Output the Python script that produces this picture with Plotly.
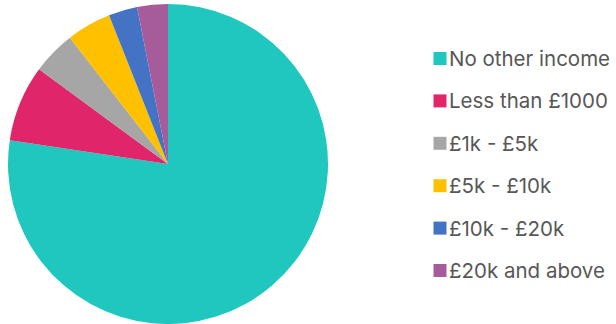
import plotly.graph_objects as go

categories = ["No other income", "Less than £1000", "£1k - £5k", "£5k - £10k", "£10k - £20k", "£20k and above"]
values = [77.3, 7.7, 4.4, 4.5, 2.9, 3.1]
colors = ["#1fc7bf", "#e0256a", "#a6a6a6", "#ffc000", "#4472c4", "#a65c9b"]

W, H = 616, 324

fig = go.Figure()
fig.add_trace(go.Pie(
    labels=categories, values=values, sort=False, direction="clockwise", rotation=0,
    marker=dict(colors=colors, line=dict(width=0)),
    textinfo="none", hoverinfo="label+percent", showlegend=False,
    domain=dict(x=[8 / W, 328 / W], y=[0, 320 / H]),
))

# legend drawn as squares + text labels
y0, step = 58.5, 42.4
for i, (lab, col) in enumerate(zip(categories, colors)):
    yc = y0 + i * step
    fig.add_shape(type="rect", xref="paper", yref="paper",
                  x0=433.5 / W, x1=446.5 / W, y0=1 - (yc + 6.5) / H, y1=1 - (yc - 6.5) / H,
                  fillcolor=col, line=dict(width=0), layer="above")
    fig.add_annotation(x=447 / W, y=1 - yc / H, xref="paper", yref="paper",
                       text=lab, showarrow=False, xanchor="left", yanchor="middle",
                       font=dict(family="Inter", size=20.5, color="#575757"))

fig.update_layout(width=W, height=H, margin=dict(l=0, r=0, t=0, b=0),
                  paper_bgcolor="white", plot_bgcolor="white")
fig.write_html("out.html", config={"displayModeBar": False},
               post_script="document.body.style.margin='0';document.body.style.padding='0';")
